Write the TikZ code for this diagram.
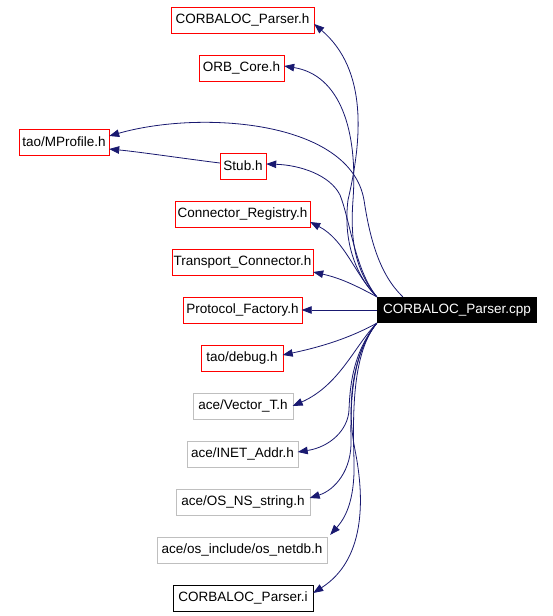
\documentclass[tikz,border=0pt]{standalone}
\usepackage{fontspec}
\setmainfont{Liberation Sans}
\usetikzlibrary{arrows.meta}
\definecolor{edgeblue}{HTML}{191970}
\definecolor{boxred}{HTML}{FF0000}
\definecolor{boxgray}{HTML}{BFBFBF}
\begin{document}
\begin{tikzpicture}[x=1pt,y=-1pt,
  file/.style={minimum height=26pt, inner sep=0pt,
    font=\fontsize{13.5}{15}\selectfont},
  frame/.style={line width=1pt},
  mainbox/.style={file, fill=black, text=white},
  dep/.style={draw=edgeblue, line width=0.8pt,
    -{Triangle[length=10pt,width=7.5pt]}}
]
\useasboundingbox (0,0) rectangle (552,616);
\fill[white] (0,0) rectangle (552,616);

\node[file, minimum width=143pt] (cph) at (242.5,20) {CORBALOC\_Parser.h};
\node[file, minimum width=85pt] (orb) at (241.5,68) {ORB\_Core.h};
\node[file, minimum width=90pt] (mp) at (64,142) {tao/MProfile.h};
\node[file, minimum width=46pt] (stub) at (243,166) {Stub.h};
\node[file, minimum width=135pt] (cr) at (242.5,214) {Connector\_Registry.h};
\node[file, minimum width=141pt] (tc) at (242.5,262) {Transport\_Connector.h};
\node[file, minimum width=118pt] (pf) at (242.5,310) {Protocol\_Factory.h};
\node[mainbox, minimum width=160pt] (cpp) at (457,310) {CORBALOC\_Parser.cpp};
\node[file, minimum width=81pt] (dbg) at (242,358) {tao/debug.h};
\node[file, minimum width=99pt] (vt) at (243,406) {ace/Vector\_T.h};
\node[file, minimum width=110pt] (ia) at (242.5,454) {ace/INET\_Addr.h};
\node[file, minimum width=133pt] (ns) at (243,502) {ace/OS\_NS\_string.h};
\node[file, minimum width=170pt] (nd) at (242,550) {ace/os\_include/os\_netdb.h};
\node[file, minimum width=140pt] (cpi) at (243,598) {CORBALOC\_Parser.i};

% frames (aligned to pixel centres)
\foreach \n in {cph,orb,mp,stub,cr,tc,pf,dbg}
  \draw[frame, draw=boxred] ([shift={(0.5,0.5)}]\n.north west) rectangle ([shift={(0.5,0.5)}]\n.south east);
\foreach \n in {vt,ia,ns,nd}
  \draw[frame, draw=boxgray] ([shift={(0.5,0.5)}]\n.north west) rectangle ([shift={(0.5,0.5)}]\n.south east);
\draw[frame, draw=black] ([shift={(0.5,0.5)}]cpi.north west) rectangle ([shift={(0.5,0.5)}]cpi.south east);

\coordinate (cppt) at ([xshift=26pt]cpp.north west);

% edges
\draw[dep] (cpp.north west) .. controls (355,275) and (343,240) .. (348,200)
  .. controls (362,140) and (368,70) .. ([yshift=-4pt]cph.east);
\draw[dep] (cpp.north west) .. controls (355,270) and (350,240) .. (353,200)
  .. controls (358,130) and (340,75) .. ([yshift=2pt]orb.east);
\draw[dep] (cppt) .. controls (380,275) and (370,240) .. (364,200)
  .. controls (350,120) and (200,110) .. ([yshift=6pt]mp.east);
\draw[dep] ([yshift=3pt]stub.west) .. controls (180,158) and (140,152) .. ([yshift=-7pt]mp.east);
\draw[dep] (cpp.north west) .. controls (355,270) and (350,220) .. (340,195)
  .. controls (330,175) and (300,165) .. ([yshift=2pt]stub.east);
\draw[dep] (cpp.north west) .. controls (355,275) and (345,240) .. ([yshift=-8pt]cr.east);
\draw[dep] (cpp.north west) .. controls (355,285) and (340,278) .. ([yshift=-10pt]tc.east);
\draw[dep] (cpp.west) -- (pf.east);
\draw[dep] (cpp.south west) .. controls (355,335) and (330,345) .. ([yshift=3pt]dbg.east);
\draw[dep] (cpp.south west) .. controls (355,345) and (340,385) .. (vt.east);
\draw[dep] (cpp.south west) .. controls (355,350) and (350,380) .. (349,410)
  .. controls (348,430) and (330,447) .. ([yshift=2pt]ia.east);
\draw[dep] (cpp.south west) .. controls (355,350) and (350,390) .. (351,440)
  .. controls (352,470) and (335,490) .. ([yshift=4pt]ns.east);
\draw[dep] (cpp.south west) .. controls (355,350) and (352,400) .. (354,460)
  .. controls (355,495) and (348,515) .. ([xshift=3pt,yshift=2pt]nd.north east);
\draw[dep] (cpp.south west) .. controls (355,350) and (345,400) .. (355,450)
  .. controls (365,500) and (365,560) .. ([yshift=5pt]cpi.east);
\end{tikzpicture}
\end{document}
